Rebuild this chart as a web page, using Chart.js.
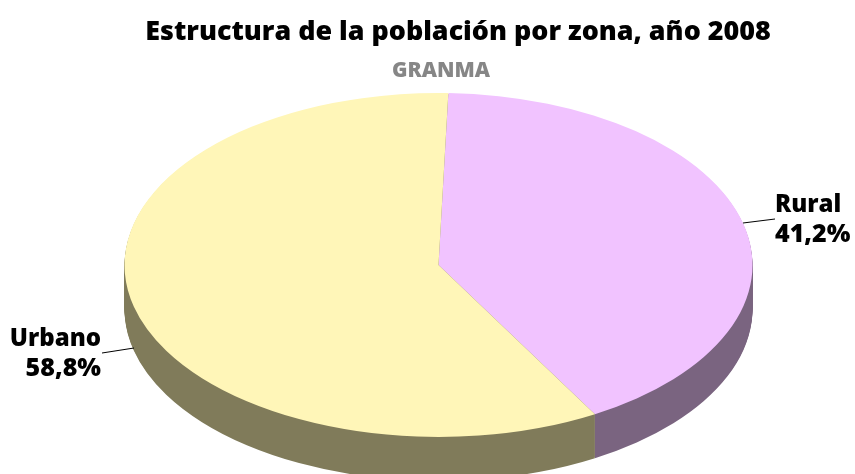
<!DOCTYPE html>
<html lang="es">
<head>
<meta charset="utf-8">
<title>Estructura de la población por zona</title>
<script src="https://cdn.jsdelivr.net/npm/chart.js@4/dist/chart.umd.js"></script>
<style>
  html, body { margin: 0; padding: 0; background: #fff; overflow: hidden; }
  canvas { display: block; }
</style>
</head>
<body>
<canvas id="chart" width="855" height="474"></canvas>
<script>
const titleText = "Estructura de la población por zona, año 2008";
const subtitleText = "GRANMA";
const categories = ["Rural", "Urbano"];
const values = [41.2, 58.8];
const topColors = ["#f1c3ff", "#fff6b8"];
const sideColors = ["#7a6480", "#807b5a"];

const FONT = '"Open Sans", sans-serif';
const DEPTH = 44;      // px of extrusion below the pie top
const X_STRETCH = 314 / 172; // circle radius -> ellipse radius

// where the label blocks and their leader lines sit, same order as categories
const labelLayout = [
  { x: 775, align: "left", y: 212, line: [743, 223, 775, 219] },
  { x: 101, align: "right", y: 346, line: [102, 353, 134, 348] },
];

const percent = (v) => `${v.toFixed(1).replace(".", ",")}%`;

function text(ctx, str, x, y, font, color, align) {
  ctx.font = font;
  ctx.fillStyle = color;
  ctx.textAlign = align;
  ctx.textBaseline = "alphabetic";
  ctx.fillText(str, x, y);
}

// Squashed look: everything the datasets draw is stretched in x around the pie centre,
// and the arcs get redrawn below it for the side wall.
const pie3d = {
  id: "pie3d",
  beforeDatasetsDraw(chart) {
    const { ctx } = chart;
    const arcs = chart.getDatasetMeta(0).data;
    const cx = arcs[0].x;
    ctx.save();
    ctx.translate(cx, 0);
    ctx.scale(X_STRETCH, 1);
    ctx.translate(-cx, 0);

    ctx.save();
    ctx.globalCompositeOperation = "destination-over";
    for (let d = 1; d <= DEPTH; d++) {
      ctx.save();
      ctx.translate(0, d);
      arcs.forEach((arc) => arc.draw(ctx));
      ctx.restore();
    }

    // repaint the wall flat, split where the two slices meet at the front
    const seam = cx + arcs[0].outerRadius * Math.cos(arcs[0].endAngle);
    const h = chart.height;
    ctx.globalCompositeOperation = "source-atop";
    ctx.fillStyle = sideColors[1];
    ctx.fillRect(cx - chart.width, 0, seam - cx + chart.width, h);
    ctx.fillStyle = sideColors[0];
    ctx.fillRect(seam, 0, chart.width, h);
    ctx.restore();
  },
  afterDatasetsDraw(chart) {
    chart.ctx.restore();
  },
  afterDraw(chart) {
    const { ctx } = chart;
    ctx.save();
    text(ctx, titleText, 458, 40, `800 26.9px ${FONT}`, "#000", "center");
    text(ctx, subtitleText, 441, 77, `800 21px ${FONT}`, "#868686", "center");

    categories.forEach((name, i) => {
      const l = labelLayout[i];
      ctx.beginPath();
      ctx.moveTo(l.line[0], l.line[1]);
      ctx.lineTo(l.line[2], l.line[3]);
      ctx.strokeStyle = "#000";
      ctx.lineWidth = 1;
      ctx.stroke();
      text(ctx, name, l.x, l.y, `800 24px ${FONT}`, "#000", l.align);
      text(ctx, percent(values[i]), l.x, l.y + 30, `800 25px ${FONT}`, "#000", l.align);
    });
    ctx.restore();
  },
};

new Chart(document.getElementById("chart"), {
  type: "pie",
  data: {
    labels: categories,
    datasets: [
      {
        data: values,
        backgroundColor: topColors,
        borderWidth: 0,
        clip: false,
      },
    ],
  },
  options: {
    responsive: false,
    animation: false,
    rotation: 1.8,
    layout: { padding: { top: 93, bottom: 37, left: 22, right: 0 } },
    plugins: {
      legend: { display: false },
      tooltip: { enabled: false },
    },
  },
  plugins: [pie3d],
});
</script>
</body>
</html>
